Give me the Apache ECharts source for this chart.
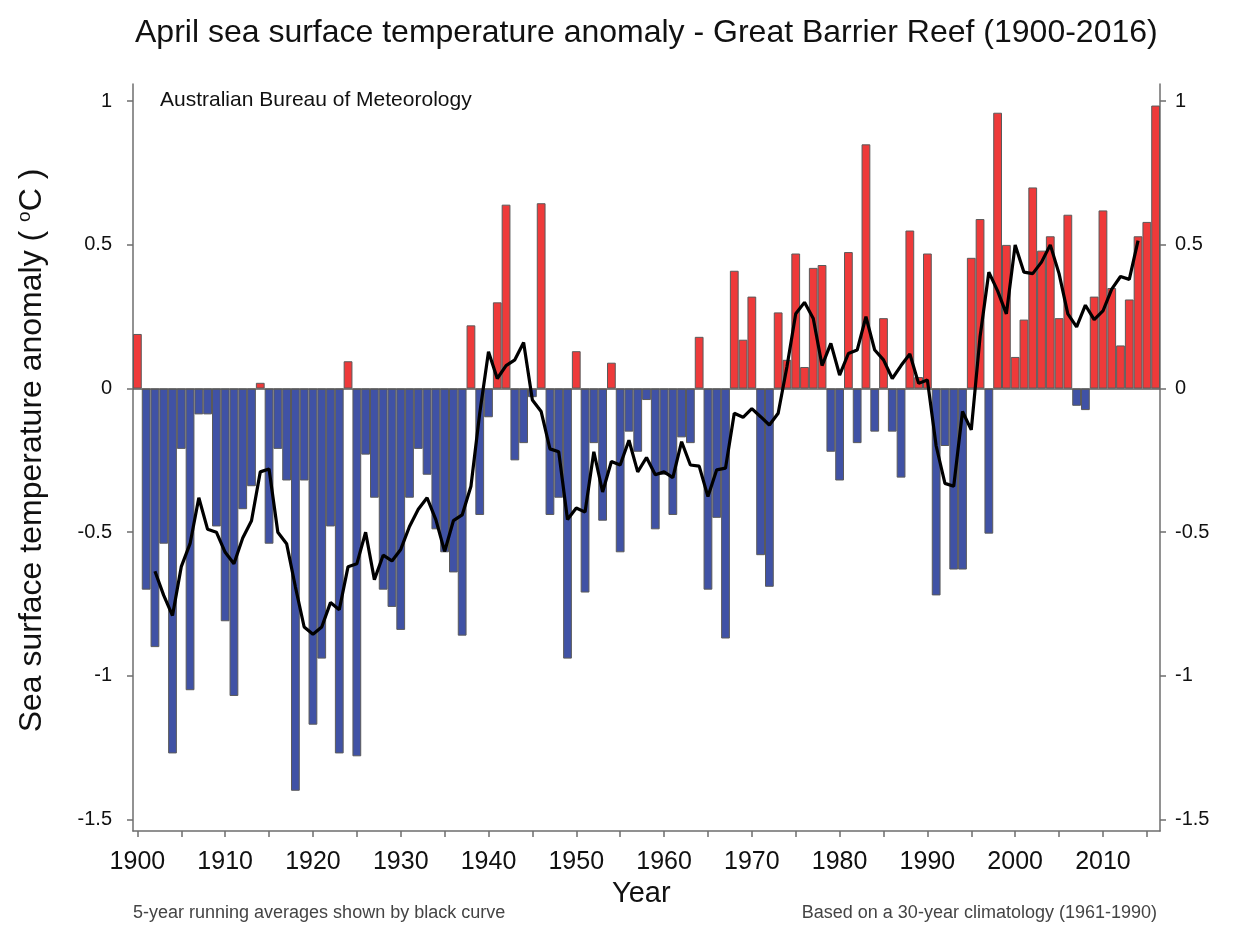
<!DOCTYPE html>
<html>
<head>
<meta charset="utf-8">
<script src="https://cdn.jsdelivr.net/npm/echarts@6/dist/echarts.min.js"></script>
<style>
html,body{margin:0;padding:0;background:#fff;}
#chart{width:1233px;height:925px;}
</style>
</head>
<body>
<div id="chart"></div>
<script>
const years = [1900,1901,1902,1903,1904,1905,1906,1907,1908,1909,1910,1911,1912,1913,1914,1915,1916,1917,1918,1919,
1920,1921,1922,1923,1924,1925,1926,1927,1928,1929,1930,1931,1932,1933,1934,1935,1936,1937,1938,1939,
1940,1941,1942,1943,1944,1945,1946,1947,1948,1949,1950,1951,1952,1953,1954,1955,1956,1957,1958,1959,
1960,1961,1962,1963,1964,1965,1966,1967,1968,1969,1970,1971,1972,1973,1974,1975,1976,1977,1978,1979,
1980,1981,1982,1983,1984,1985,1986,1987,1988,1989,1990,1991,1992,1993,1994,1995,1996,1997,1998,1999,
2000,2001,2002,2003,2004,2005,2006,2007,2008,2009,2010,2011,2012,2013,2014,2015,2016];

// April SST anomaly (°C), 1900-2016
const anomaly = [0.19,-0.70,-0.90,-0.54,-1.27,-0.21,-1.05,-0.09,-0.09,-0.48,
-0.81,-1.07,-0.42,-0.34,0.02,-0.54,-0.21,-0.32,-1.40,-0.32,
-1.17,-0.94,-0.48,-1.27,0.095,-1.28,-0.23,-0.38,-0.70,-0.76,
-0.84,-0.38,-0.21,-0.30,-0.49,-0.57,-0.64,-0.86,0.22,-0.44,
-0.10,0.30,0.64,-0.25,-0.19,-0.03,0.645,-0.44,-0.38,-0.94,
0.13,-0.71,-0.19,-0.46,0.09,-0.57,-0.15,-0.22,-0.04,-0.49,
-0.30,-0.44,-0.17,-0.19,0.18,-0.70,-0.45,-0.87,0.41,0.17,
0.32,-0.58,-0.69,0.265,0.10,0.47,0.075,0.42,0.43,-0.22,
-0.32,0.475,-0.19,0.85,-0.15,0.245,-0.15,-0.31,0.55,0.04,
0.47,-0.72,-0.20,-0.63,-0.63,0.455,0.59,-0.505,0.96,0.50,
0.11,0.24,0.70,0.48,0.53,0.245,0.605,-0.06,-0.075,0.32,
0.62,0.35,0.15,0.31,0.53,0.58,0.985];

// 5-year running average (black curve); null where not drawn
const runningAvg = [null,null,-0.636,-0.72,-0.79,-0.62,-0.54,-0.38,-0.49,-0.50,
-0.57,-0.61,-0.52,-0.46,-0.29,-0.28,-0.50,-0.54,-0.69,-0.83,
-0.855,-0.83,-0.745,-0.77,-0.62,-0.61,-0.50,-0.665,-0.58,-0.60,
-0.56,-0.48,-0.42,-0.38,-0.456,-0.567,-0.46,-0.44,-0.34,-0.086,
0.128,0.035,0.08,0.10,0.16,-0.04,-0.08,-0.21,-0.22,-0.456,
-0.416,-0.43,-0.22,-0.36,-0.254,-0.266,-0.18,-0.29,-0.24,-0.30,
-0.29,-0.31,-0.185,-0.266,-0.27,-0.376,-0.283,-0.277,-0.086,-0.10,
-0.07,-0.098,-0.127,-0.086,0.076,0.26,0.30,0.244,0.08,0.157,
0.047,0.122,0.134,0.25,0.134,0.10,0.035,0.08,0.12,0.018,
0.03,-0.20,-0.33,-0.34,-0.08,-0.144,0.18,0.405,0.34,0.26,
0.50,0.405,0.40,0.44,0.50,0.40,0.26,0.215,0.29,0.24,
0.27,0.346,0.39,0.38,0.515,null,null];

const yTicks = [-1.5,-1,-0.5,0,0.5,1];

const FONT = "'Liberation Sans',Arial,sans-serif";
const chart = echarts.init(document.getElementById('chart'), null, {renderer:'canvas'});

const axisGrey = '#6e6e6e';
const yAxisCommon = {
  type:'value', min:-1.54, max:1.06,
  splitLine:{show:false},
  axisLine:{show:true, lineStyle:{color:axisGrey, width:1.5}},
  axisTick:{show:true, length:6, lineStyle:{color:axisGrey, width:1.5}, customValues:yTicks},
  axisLabel:{fontFamily:FONT, fontSize:20, color:'#111', customValues:yTicks}
};

chart.setOption({
  animation:false,
  backgroundColor:'#fff',
  title:{
    text:'April sea surface temperature anomaly - Great Barrier Reef (1900-2016)',
    left:130, top:12,
    textStyle:{fontFamily:FONT, fontSize:32, fontWeight:'normal', color:'#111'}
  },
  grid:{left:133, right:73, top:84, bottom:94, containLabel:false},
  xAxis:{
    type:'category', data:years, boundaryGap:true,
    axisLine:{show:true, onZero:false, lineStyle:{color:axisGrey, width:1.5}},
    axisTick:{show:true, alignWithLabel:true, length:6, lineStyle:{color:axisGrey, width:1.5},
      interval:function(i, v){ return Number(v) % 5 === 0; }},
    axisLabel:{fontFamily:FONT, fontSize:25, color:'#111', margin:19,
      interval:function(i, v){ return Number(v) % 10 === 0; }},
    splitLine:{show:false}
  },
  yAxis:[
    Object.assign({}, yAxisCommon, {position:'left',
      axisLabel:Object.assign({}, yAxisCommon.axisLabel, {margin:21}),
      name:'Sea surface temperature anomaly ( {s|o}C )',
      nameLocation:'middle', nameGap:84, nameRotate:90,
      nameTextStyle:{fontFamily:FONT, fontSize:32, color:'#111', padding:[0,0,0,14],
        rich:{s:{fontFamily:FONT, fontSize:19, color:'#111', verticalAlign:'bottom', padding:[0,0,15,0]}}}
    }),
    Object.assign({}, yAxisCommon, {position:'right',
      axisLabel:Object.assign({}, yAxisCommon.axisLabel, {margin:15})})
  ],
  series:[
    {
      type:'bar', data:anomaly, xAxisIndex:0, yAxisIndex:0,
      barCategoryGap:'0%',
      itemStyle:{
        color:function(p){ return p.value >= 0 ? '#ee3a3a' : '#4052a5'; },
        borderColor:'#5a5a5a', borderWidth:1
      },
      markLine:{
        silent:true, symbol:['none','none'], label:{show:false},
        lineStyle:{color:'#5a5a5a', width:1.5, type:'solid'},
        data:[{yAxis:0}]
      },
      z:2
    },
    {
      type:'line', data:runningAvg, xAxisIndex:0, yAxisIndex:0,
      showSymbol:false, connectNulls:false,
      lineStyle:{color:'#000', width:3.2}, itemStyle:{color:'#000'},
      z:5
    }
  ],
  graphic:[
    {type:'text', left:160, top:90, style:{text:'Australian Bureau of Meteorology', font:'21px '+FONT, fill:'#111'}},
    {type:'text', left:612, top:879, style:{text:'Year', font:'29px '+FONT, fill:'#111'}},
    {type:'text', left:133, top:904, style:{text:'5-year running averages shown by black curve', font:'18px '+FONT, fill:'#444'}},
    {type:'text', right:76, top:904, style:{text:'Based on a 30-year climatology (1961-1990)', font:'18px '+FONT, fill:'#444'}}
  ]
});
</script>
</body>
</html>
